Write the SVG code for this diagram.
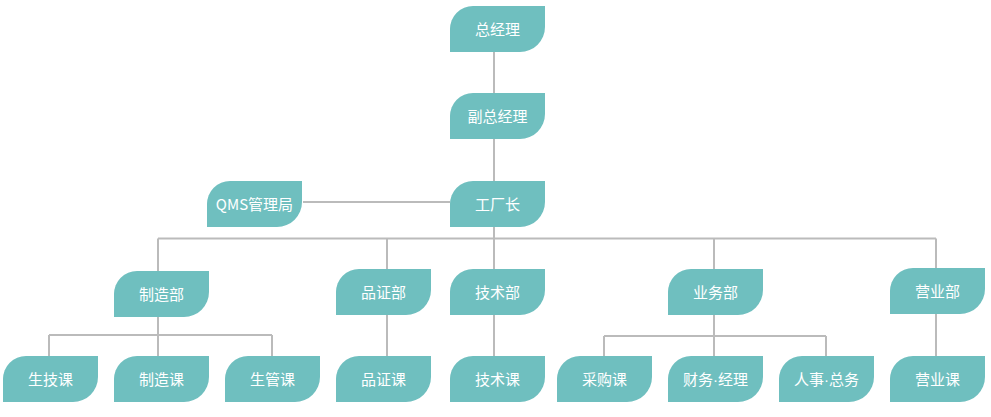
<svg xmlns="http://www.w3.org/2000/svg" xmlns:xlink="http://www.w3.org/1999/xlink" width="991" height="417" viewBox="0 0 991 417">
<style>
.n{fill:#6FBFBF}
.t{fill:#ffffff;font-family:"Noto Sans CJK SC","Noto Sans",sans-serif;font-size:15px;text-anchor:middle}
.d{font-family:"Liberation Sans",sans-serif}
.c{stroke:#BBBBBB;stroke-width:2;fill:none}
</style>
<defs>
<path id="leaf" d="M23,0 H95 V21 A25 25 0 0 1 70,46 H0 V23 A23 23 0 0 1 23,0 Z"/>
</defs>
<rect width="991" height="417" fill="#ffffff"/>
<g id="connectors" class="c">
<path d="M494,52 V93 M494,139 V181 M303,202 H450 M494,227 V238.5"/>
<path d="M158,238.5 H936 M158,238.5 V271 M387,238.5 V269 M494,238.5 V269 M714,238.5 V269 M936,238.5 V268"/>
<path d="M158,317 V335 M49,335 H272 M49,335 V356 M158,335 V356 M272,335 V356"/>
<path d="M387,315 V356 M494,315 V356"/>
<path d="M714,315 V336 M604,336 H826 M604,336 V356 M714,336 V356 M826,336 V356"/>
<path d="M936,314 V356"/>
</g>
<g id="n-zongjingli" transform="translate(450,6)"><use xlink:href="#leaf" class="n"/><text class="t" x="47.5" y="28.5">总经理</text></g>
<g id="n-fuzongjingli" transform="translate(450,93)"><use xlink:href="#leaf" class="n"/><text class="t" x="47.5" y="28.5">副总经理</text></g>
<g id="n-gongchangzhang" transform="translate(450,181)"><use xlink:href="#leaf" class="n"/><text class="t" x="47.5" y="28.5">工厂长</text></g>
<g id="n-qms" transform="translate(207,181)"><use xlink:href="#leaf" class="n"/><text class="t" x="47.5" y="28.5">QMS管理局</text></g>
<g id="n-zhizaobu" transform="translate(114,271)"><use xlink:href="#leaf" class="n"/><text class="t" x="47.5" y="28.5">制造部</text></g>
<g id="n-pinzhengbu" transform="translate(336,269)"><use xlink:href="#leaf" class="n"/><text class="t" x="47.5" y="28.5">品证部</text></g>
<g id="n-jishubu" transform="translate(450,269)"><use xlink:href="#leaf" class="n"/><text class="t" x="47.5" y="28.5">技术部</text></g>
<g id="n-yewubu" transform="translate(668,269)"><use xlink:href="#leaf" class="n"/><text class="t" x="47.5" y="28.5">业务部</text></g>
<g id="n-yingyebu" transform="translate(890,268)"><use xlink:href="#leaf" class="n"/><text class="t" x="47.5" y="28.5">营业部</text></g>
<g id="n-shengjike" transform="translate(3,356)"><use xlink:href="#leaf" class="n"/><text class="t" x="47.5" y="28.5">生技课</text></g>
<g id="n-zhizaoke" transform="translate(114,356)"><use xlink:href="#leaf" class="n"/><text class="t" x="47.5" y="28.5">制造课</text></g>
<g id="n-shengguanke" transform="translate(225,356)"><use xlink:href="#leaf" class="n"/><text class="t" x="47.5" y="28.5">生管课</text></g>
<g id="n-pinzhengke" transform="translate(336,356)"><use xlink:href="#leaf" class="n"/><text class="t" x="47.5" y="28.5">品证课</text></g>
<g id="n-jishuke" transform="translate(450,356)"><use xlink:href="#leaf" class="n"/><text class="t" x="47.5" y="28.5">技术课</text></g>
<g id="n-caigouke" transform="translate(557,356)"><use xlink:href="#leaf" class="n"/><text class="t" x="47.5" y="28.5">采购课</text></g>
<g id="n-caiwu" transform="translate(668,356)"><use xlink:href="#leaf" class="n"/><text class="t" x="47.5" y="28.5">财务<tspan class="d">·</tspan>经理</text></g>
<g id="n-renshi" transform="translate(779,356)"><use xlink:href="#leaf" class="n"/><text class="t" x="47.5" y="28.5">人事<tspan class="d">·</tspan>总务</text></g>
<g id="n-yingyeke" transform="translate(890,356)"><use xlink:href="#leaf" class="n"/><text class="t" x="47.5" y="28.5">营业课</text></g>
</svg>
